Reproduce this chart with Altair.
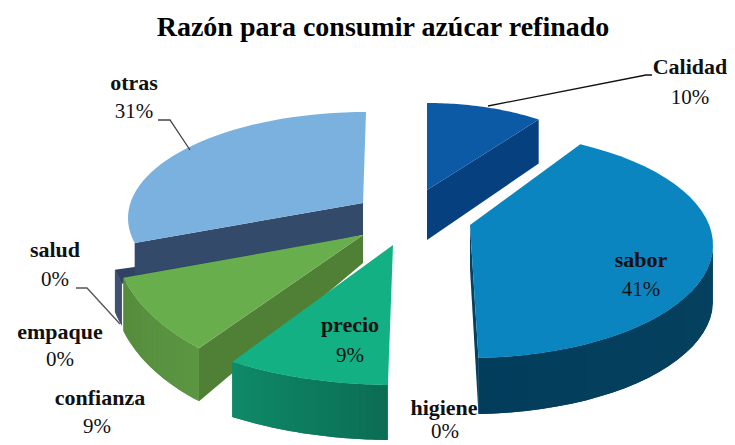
import math
import altair as alt

TITLE = "Razón para consumir azúcar refinado"
labels = ["Calidad", "sabor", "higiene", "precio", "confianza", "empaque", "salud", "otras"]
shares = [10, 41, 0, 9, 9, 0, 0, 31]
pct_text = [f"{s}%" for s in shares]

# Look of each visible 3-D slice: apex, ellipse centre, radii, angle corrections, depths, colours
slices = {
    "Calidad":   dict(apex=(427, 190), c=(427, 190), r=(190, 87),  off=(0, 0),     d=44, ad=50, top="#0c5aa6", wall=("#06407f", "#06407f"), face="#06407f", rad="end", outer=False),
    "sabor":     dict(apex=(470, 225), c=(470, 245), r=(243, 113), off=(-9, -5.6), d=56, ad=44, top="#0a85bf", wall=("#05425f", "#033d5c"), face="#05405f", rad="end", outer=True),
    "salud":     dict(apex=(363, 235), c=(363, 235), r=(255, 150), off=(2.6, 8.2), d=42, ad=30, top="#2f4263", wall=("#2f4263", "#2f4263"), face="#2f4263", rad=None, outer=True),
    "otras":     dict(apex=(363, 203), c=(366, 218), r=(238, 106), off=(8, 0),     d=32, ad=32, top="#7bb1df", wall=("#344a6a", "#344a6a"), face="#344a6a", rad="start", outer=False),
    "confianza": dict(apex=(363, 235), c=(363, 235), r=(250, 150), off=(5, 5),     d=53, ad=28, top="#69ae4c", wall=("#5c9642", "#558c3c"), face="#4f8036", rad="start", outer=True),
    "precio":    dict(apex=(393, 245), c=(393, 245), r=(292, 140), off=(-2.6, -2.6), d=55, ad=55, top="#13b084", wall=("#0b6d54", "#0f8a68"), face="#0b6d54", rad=None, outer=True),
}
draw_order = ["Calidad", "sabor", "salud", "otras", "confianza", "precio"]

# Label placement: name centre, percent centre
name_pos = {"Calidad": (690, 67), "sabor": (641, 260), "higiene": (444, 408), "precio": (350, 325),
            "confianza": (100, 398), "empaque": (60, 332), "salud": (55, 250), "otras": (134, 83)}
pct_pos = {"Calidad": (690, 98), "sabor": (641, 290), "higiene": (445, 432), "precio": (350, 356),
           "confianza": (97, 427), "empaque": (60, 360), "salud": (55, 280), "otras": (134, 112)}
leaders = {"Calidad": [(488, 106), (646, 75), (652, 75)],
           "otras": [(190, 150), (170, 120), (158, 120)],
           "salud": [(76, 288), (87, 288), (120, 324)]}
leader_color = {"Calidad": "#111111", "otras": "#444444", "salud": "#555555"}


def mix(a, b, t):
    ca = [int(a[i:i + 2], 16) for i in (1, 3, 5)]
    cb = [int(b[i:i + 2], 16) for i in (1, 3, 5)]
    return "#" + "".join(f"{round(x + (y - x) * t):02x}" for x, y in zip(ca, cb))


def feature(ring, fill):
    ring = [list(p) for p in ring]
    ring.append(ring[0])
    return {"type": "Feature", "properties": {"fill": fill},
            "geometry": {"type": "Polygon", "coordinates": [ring]}}


cum = {}
run = 0
for name, s in zip(labels, shares):
    cum[name] = (run * 3.6, (run + s) * 3.6)
    run += s

features = []
for name in draw_order:
    p = slices[name]
    a0 = cum[name][0] + p["off"][0]
    a1 = cum[name][1] + p["off"][1]

    def pt(deg):
        t = math.radians(deg)
        return (p["c"][0] + p["r"][0] * math.sin(t), p["c"][1] - p["r"][1] * math.cos(t))

    n = 40
    angles = [a0 + (a1 - a0) * i / n for i in range(n + 1)]
    ax, ay = p["apex"]
    # radial side face
    if p["rad"]:
        ex, ey = pt(a1 if p["rad"] == "end" else a0)
        features.append(feature([(ax, ay), (ax, ay + p["ad"]), (ex, ey + p["d"]), (ex, ey)], p["face"]))
    # outer wall, cut in shaded strips that overlap so no seams show
    if p["outer"]:
        front = [a for a in angles if 90 <= a <= 270]
        for i in range(len(front) - 1):
            arc = [pt(a) for a in front[i:i + 3]]
            lower = [(x, y + p["d"]) for x, y in reversed(arc)]
            features.append(feature(arc + lower, mix(p["wall"][0], p["wall"][1], i / max(1, len(front) - 2))))
    # top face
    features.append(feature([(ax, ay)] + [pt(a) for a in angles], p["top"]))

W, H = 719, 437
xs = alt.Scale(domain=[8, 8 + W], range=[0, W])
ys = alt.Scale(domain=[8, 8 + H], range=[0, H])

pie = alt.Chart(alt.InlineData(values={"type": "FeatureCollection", "features": features},
                               format=alt.DataFormat(property="features", type="json"))
                ).mark_geoshape(strokeWidth=0).encode(
    fill=alt.Fill("properties.fill:N", scale=None),
).project(type="identity", scale=1, translate=[-8, -8])

line_rows = [{"k": k, "i": i, "x": x, "y": y, "c": leader_color[k]}
             for k, pts in leaders.items() for i, (x, y) in enumerate(pts)]
lead = alt.Chart(alt.Data(values=line_rows)).mark_line(strokeWidth=1.3).encode(
    x=alt.X("x:Q", scale=xs, axis=None), y=alt.Y("y:Q", scale=ys, axis=None),
    detail="k:N", order="i:Q", color=alt.Color("c:N", scale=None))

FONT = "Liberation Serif"
name_rows = [{"t": n, "x": name_pos[n][0], "y": name_pos[n][1]} for n in labels]
pct_rows = [{"t": pct_text[i], "x": pct_pos[n][0], "y": pct_pos[n][1]} for i, n in enumerate(labels)]
names = alt.Chart(alt.Data(values=name_rows)).mark_text(
    font=FONT, fontSize=22, fontWeight="bold", color="#111111", align="center", baseline="middle"
).encode(x=alt.X("x:Q", scale=xs, axis=None), y=alt.Y("y:Q", scale=ys, axis=None), text="t:N")
pcts = alt.Chart(alt.Data(values=pct_rows)).mark_text(
    font=FONT, fontSize=21, color="#111111", align="center", baseline="middle"
).encode(x=alt.X("x:Q", scale=xs, axis=None), y=alt.Y("y:Q", scale=ys, axis=None), text="t:N")
title = alt.Chart(alt.Data(values=[{"t": TITLE, "x": 383, "y": 28}])).mark_text(
    font=FONT, fontSize=28, fontWeight="bold", color="#000000", align="center", baseline="middle"
).encode(x=alt.X("x:Q", scale=xs, axis=None), y=alt.Y("y:Q", scale=ys, axis=None), text="t:N")

chart = alt.layer(pie, lead, names, pcts, title).properties(
    width=W, height=H, padding=0, background="white",
    autosize=alt.AutoSizeParams(type="none"),
).configure_view(stroke=None)

chart.save("out.html", embed_options={"renderer": "svg", "actions": False})
